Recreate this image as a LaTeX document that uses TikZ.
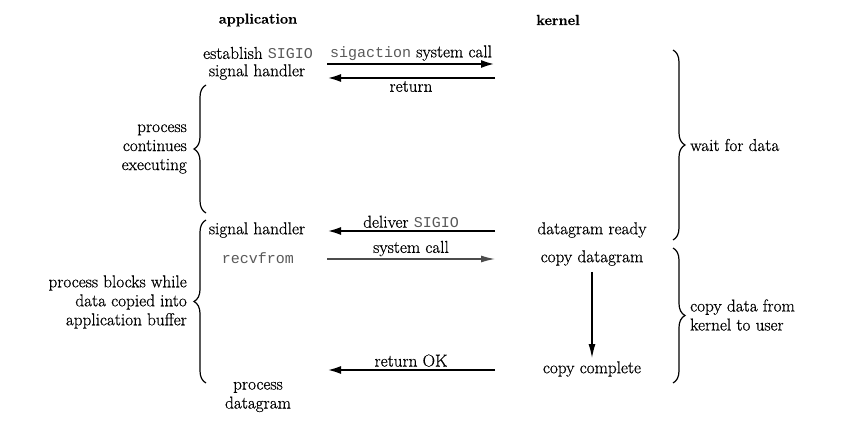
\documentclass[tikz,border=0pt]{standalone}
\usepackage{fontspec}
\setmainfont{Latin Modern Roman}[FakeBold=0.6]
\setmonofont{Liberation Mono}
\usetikzlibrary{arrows.meta,decorations.pathreplacing}
\begin{document}
\begin{tikzpicture}[x=1pt,y=1pt,
  txt/.style={inner sep=1pt, font=\fontsize{17.2}{19}\selectfont, align=center},
  lbl/.style={txt, align=right},
  rlbl/.style={txt, align=left, anchor=west},
  head/.style={txt, font=\fontsize{14.5}{19}\selectfont\bfseries},
  bigarrow/.style={line width=2.4pt, -{Latex[length=14pt,width=8pt]}},
  thinarrow/.style={line width=1.3pt, draw=black!70, -{Latex[length=14pt,width=7pt]}},
  vert/.style={line width=1.3pt, -{Latex[length=14pt,width=7pt]}},
  bracestyle/.style={line width=1.2pt, decorate, decoration={brace, amplitude=12pt}}]
\newcommand{\mt}[1]{{\color{black!65}\fontsize{15}{19}\selectfont\ttfamily #1}}
\useasboundingbox (0,0) rectangle (857,437);

% headings
\node[head] (app) at (258,417) {application};
\node[head] (ker) at (558,417) {kernel};

% application side
\node[txt] (est) at (258,384) {establish \mt{SIGIO}};
\node[txt] (sh1) at (257,365) {signal handler};
\node[txt] (sh2) at (257,207) {signal handler};
\node[txt] (rcv) at (258,179) {\mt{recvfrom}};
\node[txt] (pd) at (258,40) {process\\datagram};

% kernel side
\node[txt] (dr) at (592,207) {datagram ready};
\node[txt] (cd) at (592,179) {copy datagram};
\node[txt] (cc) at (592,68) {copy complete};

% arrow end points
\coordinate (a1l) at (327,373); \coordinate (a1r) at (495,373);
\coordinate (a2l) at (327,359); \coordinate (a2r) at (495,359);
\coordinate (a3l) at (327,206); \coordinate (a3r) at (495,206);
\coordinate (a4l) at (327,178); \coordinate (a4r) at (495,178);
\coordinate (a5l) at (327,67);  \coordinate (a5r) at (495,67);

\draw[bigarrow] (a1l) -- node[txt, above=1pt] (l1) {\mt{sigaction} system call} (a1r);
\draw[bigarrow] (a2r) -- node[txt, below=1pt] (l2) {return} (a2l);
\draw[bigarrow] (a3r) -- node[txt, above=1pt] (l3) {deliver \mt{SIGIO}} (a3l);
\draw[thinarrow] (a4l) -- node[txt, above=1pt] (l4) {system call} (a4r);
\draw[bigarrow] (a5r) -- node[txt, above=1pt] (l5) {return OK} (a5l);

\draw[vert] ([yshift=-5pt]cd.south) -- ([yshift=2pt]cc.north);

% braces
\coordinate (b1b) at (206,224); \coordinate (b1t) at (206,352);
\coordinate (b2b) at (206,54);  \coordinate (b2t) at (206,217);
\coordinate (b3t) at (673,387); \coordinate (b3b) at (673,197);
\coordinate (b4t) at (673,189); \coordinate (b4b) at (673,54);
\draw[bracestyle] (b1b) -- (b1t);
\draw[bracestyle] (b2b) -- (b2t);
\draw[bracestyle] (b3t) -- (b3b);
\draw[bracestyle] (b4t) -- (b4b);

\node[lbl, anchor=east] (pce) at (188,288) {process\\continues\\executing};
\node[lbl, anchor=east] (pbw) at (188,135) {process blocks while\\data copied into\\application buffer};
\node[rlbl] (wfd) at (689,292) {wait for data};
\node[rlbl] (cdk) at (689,122) {copy data from\\kernel to user};
\end{tikzpicture}
\end{document}
